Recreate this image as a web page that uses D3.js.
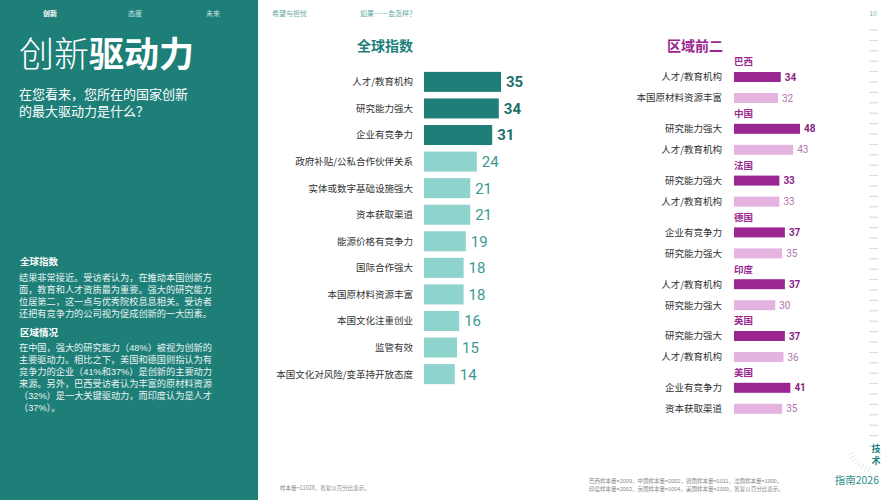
<!DOCTYPE html>
<html><head><meta charset="utf-8">
<script src="https://cdn.jsdelivr.net/npm/d3@7"></script>
<style>
html,body{margin:0;padding:0;background:#fff;}
svg{display:block;font-family:"Noto Sans CJK SC","Noto Sans",sans-serif;}
</style></head>
<body>
<svg id="c" width="889" height="500"></svg>
<script>
// ---- data ----
const globalCategories = ["人才/教育机构","研究能力强大","企业有竞争力","政府补贴/公私合作伙伴关系","实体或数字基础设施强大","资本获取渠道","能源价格有竞争力","国际合作强大","本国原材料资源丰富","本国文化注重创业","监管有效","本国文化对风险/变革持开放态度"];
const globalValues = [35,34,31,24,21,21,19,18,18,16,15,14];
const regionCountries = ["巴西","中国","法国","德国","印度","英国","美国"];
const regionFirstLabels = ["人才/教育机构","研究能力强大","研究能力强大","企业有竞争力","人才/教育机构","研究能力强大","企业有竞争力"];
const regionFirstValues = [34,48,33,37,37,37,41];
const regionSecondLabels = ["本国原材料资源丰富","人才/教育机构","人才/教育机构","研究能力强大","研究能力强大","人才/教育机构","资本获取渠道"];
const regionSecondValues = [32,43,33,35,30,36,35];

const svg = d3.select("#c");
const TEAL = "#1e7f79", LTEAL = "#8ed3cc", PURP = "#9a2791", LPURP = "#e5b3e0";
const TIGHT = "'Liberation Sans','Noto Sans CJK SC',sans-serif";

function block(x, y, lh, lines, size, fill, weight){
  const t = svg.append("text").attr("x",x).attr("y",y).attr("font-size",size).attr("fill",fill).attr("font-family",TIGHT);
  if (weight) t.attr("font-weight",weight);
  lines.forEach((s,i)=>t.append("tspan").attr("x",x).attr("y",y+i*lh).text(s));
  return t;
}

// ---- left panel ----
svg.append("rect").attr("x",0).attr("y",0).attr("width",258).attr("height",500).attr("fill","#1e7f79");
const nav = [["创新",50,true],["态度",135,false],["未来",213,false]];
nav.forEach(n=>svg.append("text").attr("x",n[1]).attr("y",16).attr("font-size",7)
  .attr("fill", n[2]?"#fff":"#cde6e3").attr("font-weight",n[2]?700:400).attr("text-anchor","middle").text(n[0]));
const t = svg.append("text").attr("x",19).attr("y",67).attr("font-size",35).attr("fill","#fff");
t.append("tspan").attr("font-weight",300).text("创新");
t.append("tspan").attr("font-weight",700).text("驱动力");
block(19, 99, 16.5, ["在您看来，您所在的国家创新","的最大驱动力是什么？"], 13, "#fff");
svg.append("text").attr("x",20).attr("y",265).attr("font-size",9.5).attr("font-weight",700).attr("fill","#fff").text("全球指数");
block(19, 281, 12, ["结果非常接近。受访者认为，在推动本国创新方","面，教育和人才资质最为重要。强大的研究能力","位居第二，这一点与优秀院校息息相关。受访者","还把有竞争力的公司视为促成创新的一大因素。"], 9.2, "#e8f4f2");
svg.append("text").attr("x",20).attr("y",336).attr("font-size",9.5).attr("font-weight",700).attr("fill","#fff").text("区域情况");
block(19, 351, 12, ["在中国，强大的研究能力（48%）被视为创新的","主要驱动力。相比之下，美国和德国则指认为有","竞争力的企业（41%和37%）是创新的主要动力","来源。另外，巴西受访者认为丰富的原材料资源","（32%）是一大关键驱动力，而印度认为是人才","（37%）。"], 9.2, "#e8f4f2");

// ---- top nav right ----
svg.append("text").attr("x",272).attr("y",16).attr("font-size",7).attr("fill","#5fa8a2").text("希望与担忧");
svg.append("text").attr("x",360).attr("y",16).attr("font-size",7).attr("fill","#5fa8a2").text("如果……会怎样？");
svg.append("text").attr("x",877).attr("y",16).attr("font-size",7).attr("text-anchor","end").attr("fill","#7fb6b1").text("10");

// ---- global chart ----
svg.append("text").attr("x",385).attr("y",51).attr("font-size",14).attr("font-weight",700).attr("fill",TEAL).attr("text-anchor","middle").text("全球指数");
const gx = d3.scaleLinear().domain([0,35]).range([424,501]);
const gy = d3.scaleBand().domain(globalCategories).range([68.7,387.3]).paddingInner(0.247).paddingOuter(0.12);
const g = svg.append("g");
globalCategories.forEach((c,i)=>{
  const top3 = i<3;
  const y = gy(c), h = gy.bandwidth();
  g.append("rect").attr("x",gx(0)).attr("y",y).attr("width",gx(globalValues[i])-gx(0)).attr("height",h).attr("fill",top3?TEAL:LTEAL);
  g.append("text").attr("x",413).attr("y",y+h/2).attr("dy","0.36em").attr("font-size",9.5).attr("fill","#333").attr("text-anchor","end").text(c);
  g.append("text").attr("x",gx(globalValues[i])+5).attr("y",y+h/2).attr("dy","0.36em").attr("font-size",15)
   .attr("font-family","Roboto,'Noto Sans',sans-serif")
   .attr("font-weight",top3?700:400).attr("fill",top3?"#1b6f6a":"#3a9a93").text(globalValues[i]);
});

// ---- regional chart ----
svg.append("text").attr("x",695).attr("y",51).attr("font-size",14).attr("font-weight",700).attr("fill",PURP).attr("text-anchor","middle").text("区域前二");
const rx = d3.scaleLinear().domain([0,48]).range([734,800]);
const ry = d3.scaleBand().domain(regionCountries).range([55,417.6]).padding(0);
const r = svg.append("g");
regionCountries.forEach((c,i)=>{
  const y0 = ry(c);
  r.append("text").attr("x",734).attr("y",y0+7).attr("dy","0.36em").attr("font-size",9.5).attr("font-weight",700).attr("fill",PURP).text(c);
  const rows = [[regionFirstLabels[i],regionFirstValues[i],true,y0+22],[regionSecondLabels[i],regionSecondValues[i],false,y0+43]];
  rows.forEach(rw=>{
    const [lab,v,first,cy] = rw;
    r.append("rect").attr("x",rx(0)).attr("y",cy-5).attr("width",rx(v)-rx(0)).attr("height",10).attr("fill",first?PURP:LPURP);
    r.append("text").attr("x",722).attr("y",cy).attr("dy","0.36em").attr("font-size",9.5).attr("fill","#333").attr("text-anchor","end").text(lab);
    r.append("text").attr("x",rx(v)+4).attr("y",cy).attr("dy","0.36em").attr("font-size",10)
      .attr("font-family","Roboto,'Noto Sans',sans-serif")
      .attr("font-weight",first?700:400).attr("fill",first?"#8a1f83":"#b374ad").text(v);
  });
});

// ---- footnotes ----
svg.append("text").attr("x",280).attr("y",490).attr("font-size",5.5).attr("fill","#888").text("样本量=11028，答复以百分比表示。");
block(589, 483, 8, ["巴西样本量=2009，中国样本量=2002，德国样本量=1011，法国样本量=1000，","印度样本量=2002，英国样本量=1004，美国样本量=2000，答复以百分比表示。"], 5.5, "#888");

// ---- right decoration ----
d3.range(41).forEach(i=>{
  const y = 30 + i*10.4;
  svg.append("line").attr("x1",869).attr("x2",878).attr("y1",y).attr("y2",y).attr("stroke","#b7d3d0").attr("stroke-width",0.8);
});
d3.range(8).forEach(i=>{
  const a = (200 + i*8)*Math.PI/180;
  const cx=875, cy=445;
  svg.append("line").attr("x1",cx+Math.cos(a)*22).attr("y1",cy-Math.sin(a)*22).attr("x2",cx+Math.cos(a)*28).attr("y2",cy-Math.sin(a)*28)
    .attr("stroke","#d3e4e2").attr("stroke-width",0.8);
});
block(876, 452, 12, ["技","术"], 9, TEAL, 700).attr("text-anchor","middle");
svg.append("text").attr("x",879).attr("y",484).attr("font-size",10.5).attr("fill","#2a8f88").attr("text-anchor","end").text("指南2026");
</script>
</body></html>
